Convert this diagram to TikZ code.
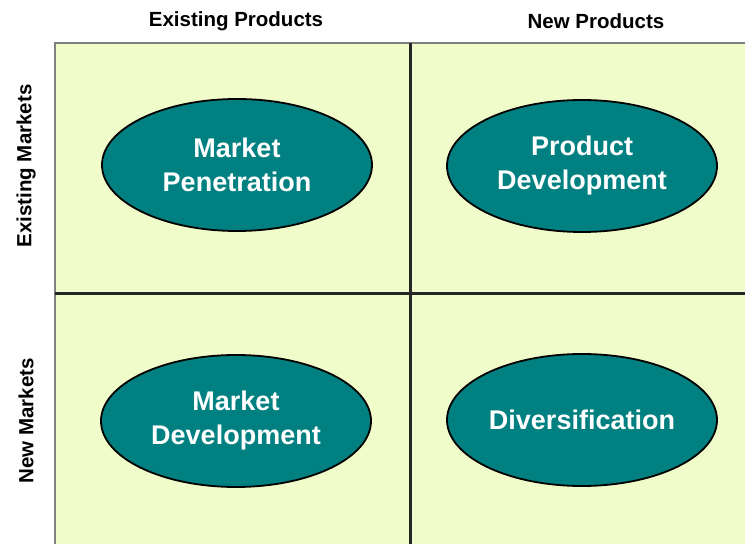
\documentclass[tikz,border=0pt]{standalone}
\usepackage{fontspec}
\setmainfont{Liberation Sans}
\usetikzlibrary{shapes.geometric}
\definecolor{feldgelb}{RGB}{240,252,202}
\definecolor{petrol}{RGB}{0,128,128}

\def\strategie#1#2#3{
	\node[strat] (#1) at #2 {#3};
}

\begin{document}
\begin{tikzpicture}[x=1pt,y=1pt,
	strat/.style={ellipse,draw=black,line width=1.8pt,fill=petrol,minimum width=270pt,minimum height=132pt,inner sep=0pt,text=white,font=\fontsize{27}{34}\selectfont\bfseries,align=center},
	kopf/.style={font=\fontsize{20.5}{22}\selectfont\bfseries}]
\useasboundingbox (0,0) rectangle (745,544);
% Felder
\fill[feldgelb] (55,0) rectangle (745,501);
\draw[gray,line width=2pt] (55,0) -- (55,501) -- (745,501);
\coordinate (O) at (410,501);
\coordinate (U) at (410,0);
\coordinate (L) at (55,250);
\coordinate (R) at (745,250);
\draw[black!85,line width=3pt] (O) -- (U);
\draw[black!85,line width=3pt] (L) -- (R);
% Achsen
\node[kopf] (ep) at (236,523) {Existing Products};
\node[kopf] (np) at (596,523) {New Products};
\node[kopf,rotate=90] (em) at (26,378) {Existing Markets};
\node[kopf,rotate=90] (nm) at (26,123) {New Markets};
% Strategien
\strategie{mp}{(237,379)}{Market\\Penetration}
\strategie{pd}{(582,378)}{Product\\Development}
\strategie{md}{(236,123)}{Market\\Development}
\strategie{dv}{(582,124)}{Diversification}
\end{tikzpicture}
\end{document}
